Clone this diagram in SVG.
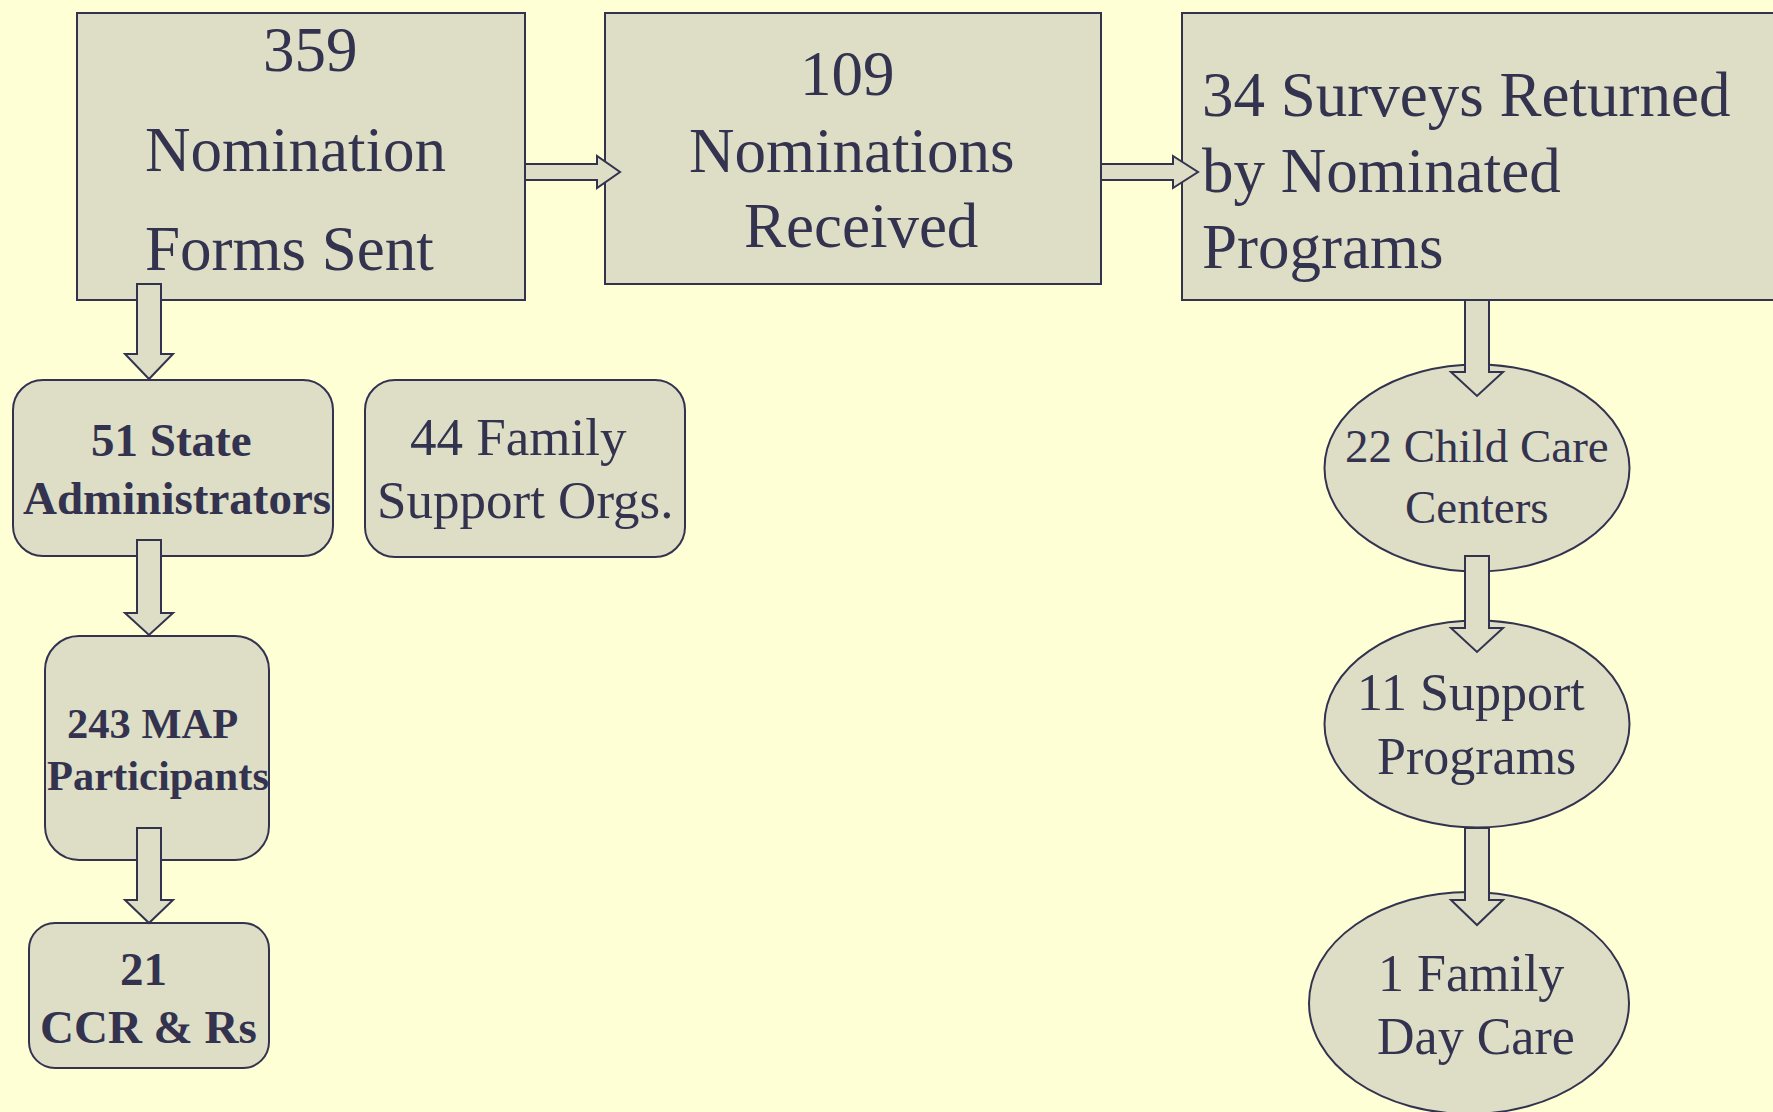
<svg xmlns="http://www.w3.org/2000/svg" width="1773" height="1112" viewBox="0 0 1773 1112">
<style>
.bg{fill:#FFFFD5}
.n{fill:#DDDEC5;stroke:#333350;stroke-width:2}
.a{fill:#DDDEC5;stroke:#333350;stroke-width:2;stroke-linejoin:miter}
text{font-family:"Liberation Serif","Times New Roman",serif;fill:#333350}
.t63{font-size:63px}
.b47{font-size:47px;font-weight:bold}
.b42{font-size:42.5px;font-weight:bold}
.r53{font-size:53px}
.r47{font-size:47px}
.r52{font-size:52px}
</style>
<rect class="bg" x="0" y="0" width="1773" height="1112"/>
<g id="n359">
<rect class="n" x="77" y="13" width="448" height="287"/>
<text class="t63" x="263" y="71">359</text>
<text class="t63" x="145" y="171">Nomination</text>
<text class="t63" x="145" y="270">Forms Sent</text>
</g>
<g id="n109">
<rect class="n" x="605" y="13" width="496" height="271"/>
<text class="t63" x="800" y="95">109</text>
<text class="t63" x="689" y="172">Nominations</text>
<text class="t63" x="744" y="247">Received</text>
</g>
<g id="n34">
<rect class="n" x="1182" y="13" width="620" height="287"/>
<text class="t63" x="1202" y="116">34 Surveys Returned</text>
<text class="t63" x="1202" y="192">by Nominated</text>
<text class="t63" x="1202" y="268">Programs</text>
</g>
<g id="n51">
<rect class="n" x="13" y="380" width="320" height="176" rx="30" ry="30"/>
<text class="b47" x="91" y="456">51 State</text>
<text class="b47" x="23" y="514">Administrators</text>
</g>
<g id="n44">
<rect class="n" x="365" y="380" width="320" height="177" rx="30" ry="30"/>
<text class="r53" x="410" y="455">44 Family</text>
<text class="r53" x="377" y="518">Support Orgs.</text>
</g>
<g id="n243">
<rect class="n" x="45" y="636" width="224" height="224" rx="34" ry="34"/>
<text class="b42" x="67" y="738">243 MAP</text>
<text class="b42" x="47" y="790">Participants</text>
</g>
<g id="n21">
<rect class="n" x="29" y="923" width="240" height="145" rx="26" ry="26"/>
<text class="b47" x="120" y="985">21</text>
<text class="b47" x="40" y="1043">CCR &amp; Rs</text>
</g>
<g id="n22">
<ellipse class="n" cx="1477" cy="468" rx="152.5" ry="103.5"/>
<text class="r47" x="1345" y="462">22 Child Care</text>
<text class="r47" x="1405" y="523">Centers</text>
</g>
<g id="n11">
<ellipse class="n" cx="1477" cy="724" rx="152.5" ry="103.5"/>
<text class="r52" x="1357" y="710">11 Support</text>
<text class="r52" x="1377" y="774">Programs</text>
</g>
<g id="n1">
<ellipse class="n" cx="1469" cy="1003" rx="160" ry="111"/>
<text class="r52" x="1378" y="991">1 Family</text>
<text class="r52" x="1377" y="1054">Day Care</text>
</g>
<g id="connectors">
<polygon class="a" points="525,164 597,164 597,156 620,172 597,188 597,180 525,180"/>
<polygon class="a" points="1101,164 1173,164 1173,156 1198,172 1173,188 1173,180 1101,180"/>
<polygon class="a" points="137,284 161,284 161,354 173,354 149,379 125,354 137,354"/>
<polygon class="a" points="137,540 161,540 161,613 173,613 149,635 125,613 137,613"/>
<polygon class="a" points="137,828 161,828 161,900 173,900 149,923 125,900 137,900"/>
<polygon class="a" points="1465,300 1489,300 1489,372 1503,372 1477,396 1451,372 1465,372"/>
<polygon class="a" points="1465,556 1489,556 1489,628 1503,628 1477,652 1451,628 1465,628"/>
<polygon class="a" points="1465,828 1489,828 1489,900 1503,900 1477,925 1451,900 1465,900"/>
</g>
</svg>
